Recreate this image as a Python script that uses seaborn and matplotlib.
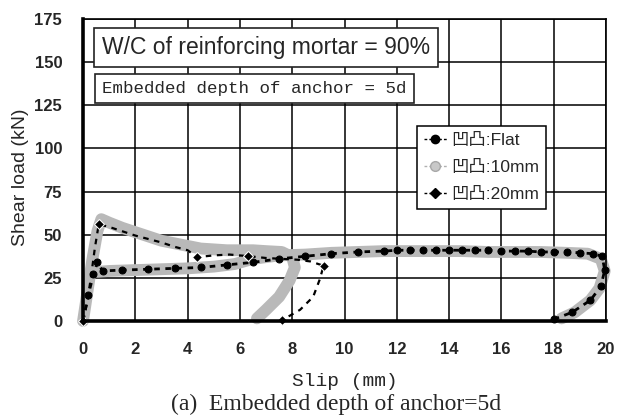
import matplotlib
matplotlib.use('Agg')
import matplotlib.pyplot as plt
from matplotlib.lines import Line2D
import seaborn as sns
import pandas as pd

# Flat (black circles)
flat_x = [0.0, 0.2, 0.4, 0.55, 0.75, 1.5, 2.5, 3.5, 4.5, 5.5, 6.5, 7.5, 8.5, 9.5,
          10.5, 11.5, 12.0, 12.5, 13.0, 13.5, 14.0, 14.5, 15.0, 15.5, 16.0, 16.5,
          17.0, 17.5, 18.0, 18.5, 19.0, 19.5, 19.85, 19.95, 19.8, 19.4, 18.7, 18.0]
flat_y = [0, 15, 27, 34, 29, 29.5, 30, 30.5, 31, 32.5, 34, 36, 37.5, 39,
          40, 40.5, 41, 41, 41, 41, 41, 41, 41, 41, 40.5, 40.5,
          40.5, 40, 40, 40, 39.5, 39, 37.5, 29.5, 20, 12, 5, 1]

# 10mm (grey band), two segments
t10_seg = [0] * 25 + [1] * 27
t10_x = [0.0, 0.15, 0.35, 0.55, 0.7, 1.0, 1.5, 2.0, 2.5, 3.0, 3.5, 4.0, 4.5,
         5.0, 5.5, 6.0, 6.5, 7.0, 7.6, 8.0, 8.1, 7.9, 7.5, 7.0, 6.65,
         0.55, 1.0, 2.0, 3.0, 4.0, 5.0, 5.8, 6.5, 7.5, 8.5, 9.5, 10.5, 11.5,
         12.5, 13.5, 14.5, 15.5, 16.5, 17.5, 18.5, 19.3, 19.8, 19.95, 19.75,
         19.4, 18.8, 18.3]
t10_y = [0, 15, 35, 52, 59, 57, 54, 51.5, 49, 46.5, 45, 43.5, 42,
         41.5, 41, 41, 41, 40.5, 40, 37, 31, 23.5, 14, 6.5, 1.5,
         28.5, 29, 29.5, 30, 30.5, 31.5, 33, 36, 38, 38.5, 39.5, 40, 40.5,
         40.5, 40.5, 40.5, 40, 40, 40, 39.5, 39, 36, 29, 19,
         12, 5, 1.5]

# 20mm (black diamonds)
t20_x = [0.0, 0.15, 0.3, 0.45, 0.6, 1.0, 1.5, 2.0, 2.5, 3.0, 3.5, 4.0, 4.35,
         5.0, 5.6, 6.3, 7.0, 7.6, 8.2, 8.7, 9.2, 9.05, 8.8, 8.3, 7.9, 7.6]
t20_y = [0, 10, 25, 42, 56, 54.5, 52, 49.5, 47.5, 45.5, 43, 41, 37,
         38, 38.5, 37.6, 36.5, 36, 35.5, 34.5, 32, 24, 14, 6.5, 3, 0.8]
t20_marks = [0, 4, 12, 15, 20, 25]

labels = ['凹凸:Flat', '凹凸:10mm', '凹凸:20mm']
xticks = list(range(0, 21, 2))
yticks = list(range(0, 176, 25))

sns.set_style('white')
plt.rcParams['font.family'] = ['Liberation Sans', 'Noto Sans CJK JP']

df_flat = pd.DataFrame({'slip': flat_x, 'load': flat_y})
df_10 = pd.DataFrame({'slip': t10_x, 'load': t10_y, 'seg': t10_seg})
df_20 = pd.DataFrame({'slip': t20_x, 'load': t20_y})

fig = plt.figure(figsize=(6.2, 4.19), dpi=100)
ax = fig.add_axes([0.1339, 0.2339, 0.8436, 0.7208])

sns.lineplot(data=df_10, x='slip', y='load', units='seg', estimator=None,
             sort=False, color='#b9b9b9', lw=8.5, solid_capstyle='round',
             solid_joinstyle='round', clip_on=False, zorder=3, ax=ax)
sns.lineplot(data=df_flat, x='slip', y='load', estimator=None, sort=False,
             color='black', lw=2, ls=(0, (2, 2)), marker='o', ms=5,
             mec='black', clip_on=False, zorder=4, ax=ax)
sns.lineplot(data=df_20, x='slip', y='load', estimator=None, sort=False,
             color='black', lw=1.6, ls=(0, (2.5, 2.5)), marker='D', ms=5.5,
             markevery=t20_marks, clip_on=False, zorder=5, ax=ax)

ax.set_xlim(0, 20)
ax.set_ylim(0, 175)
ax.set_xticks(xticks)
ax.set_yticks(yticks)
ax.grid(True, color='black', lw=1.1)
ax.set_axisbelow(True)
ax.tick_params(length=0, pad=15, labelsize=12)
for lab in ax.get_xticklabels() + ax.get_yticklabels():
    lab.set_fontweight('bold')
for side in ['left', 'bottom']:
    ax.spines[side].set_linewidth(2.6)
for side in ['top', 'right']:
    ax.spines[side].set_linewidth(1.2)
for sp in ax.spines.values():
    sp.set_color('black')
    sp.set_zorder(6)

ax.set_xlabel('Slip (mm)', family='Liberation Mono', fontsize=14, va='center')
ax.xaxis.set_label_coords(0.5, -0.2)
ax.set_ylabel('Shear load (kN)', fontsize=14, va='center')
ax.yaxis.set_label_coords(-0.12, 0.477)

ax.text(0.0363, 0.905, 'W/C of reinforcing mortar = 90%', transform=ax.transAxes,
        fontsize=16.5, va='center', ha='left', zorder=7,
        bbox=dict(boxstyle='square,pad=0.35', fc='white', ec='#222222', lw=1.2))
ax.text(0.0363, 0.770, 'Embedded depth of anchor = 5d', transform=ax.transAxes,
        family='Liberation Mono', fontsize=12.6, va='center', ha='left', zorder=7,
        bbox=dict(boxstyle='square,pad=0.42', fc='white', ec='#222222', lw=1.2))

handles = [
    Line2D([], [], color='black', ls=(0, (2, 1.5)), lw=1, marker='o', ms=6),
    Line2D([], [], color='#b0b0b0', ls=(0, (2, 1.5)), lw=1, marker='o', ms=7,
           mfc='#c8c8c8', mec='#a8a8a8'),
    Line2D([], [], color='black', ls=(0, (2, 1.5)), lw=1, marker='D', ms=5),
]
leg = ax.legend(handles, labels, loc='upper left', bbox_to_anchor=(0.639, 0.645),
                frameon=True, fancybox=False, fontsize=12.5, handlelength=1.3,
                handletextpad=0.25, labelspacing=0.68, borderpad=0.4,
                borderaxespad=0, framealpha=1)
leg.get_frame().set_edgecolor('black')
leg.get_frame().set_linewidth(1.1)
leg.set_zorder(8)

fig.text(0.542, 1 - 404 / 419, '(a)  Embedded depth of anchor=5d',
         family='Liberation Serif', fontsize=17, ha='center', va='center')

fig.savefig('out.png', dpi=100)
